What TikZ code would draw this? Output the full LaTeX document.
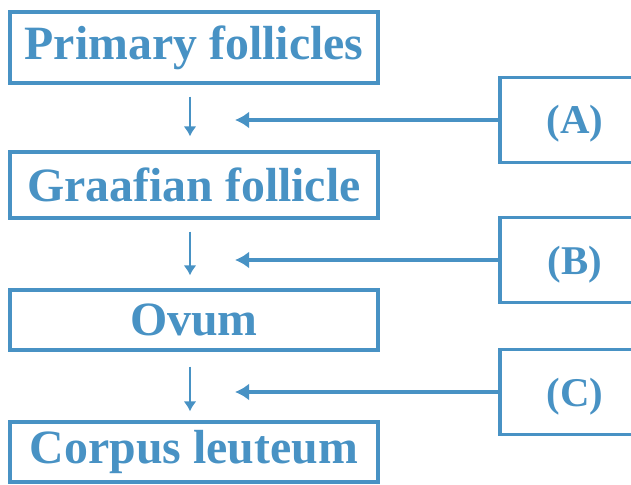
\documentclass[tikz,border=0pt]{standalone}
\usepackage{fontspec}
\setmainfont{Liberation Serif}
\usetikzlibrary{arrows.meta}
\definecolor{ink}{RGB}{72,146,196}
\begin{document}
\begin{tikzpicture}[x=1bp,y=-1bp,
  lbox/.style={draw=ink, line width=3.2bp, minimum width=368bp, inner sep=0pt, text=ink,
    font=\bfseries\fontsize{48}{48}\selectfont},
  rbox/.style={draw=ink, line width=3.2bp, minimum width=150bp, minimum height=85bp, inner sep=0pt, text=ink,
    text height=33bp, text depth=5bp, font=\bfseries\fontsize{41}{41}\selectfont},
  darrow/.style={draw=ink, line width=2.8bp, -{Latex[length=10bp,width=13bp]}},
  harrow/.style={draw=ink, line width=3.2bp, -{Latex[length=14bp,width=17bp]}}]
\useasboundingbox (0,0) rectangle (631,485);
\clip (0,0) rectangle (631,485);
\node[lbox, minimum height=71bp] (p) at (194,47.5) {Primary follicles};
\node[lbox, minimum height=66bp] (g) at (194,185) {Graafian follicle};
\node[lbox, minimum height=60bp] (o) at (194,320) {Ovum};
\node[lbox, minimum height=60bp] (c) at (194,452) {Corpus leuteum};
\node[rbox] (ra) at (575,120) {(A)};
\node[rbox] (rb) at (575,260) {(B)};
\node[rbox] (rc) at (575,392) {(C)};
\coordinate (ta) at (235,120);
\coordinate (tb) at (235,260);
\coordinate (tc) at (235,392);
\draw[darrow, shorten <=12bp, shorten >=14bp] ([xshift=-4bp]p.south) -- ([xshift=-4bp]g.north);
\draw[darrow, shorten <=12bp, shorten >=13bp] ([xshift=-4bp]g.south) -- ([xshift=-4bp]o.north);
\draw[darrow, shorten <=15bp, shorten >=9bp] ([xshift=-4bp]o.south) -- ([xshift=-4bp]c.north);
\draw[harrow] (ra.west) -- (ta);
\draw[harrow] (rb.west) -- (tb);
\draw[harrow] (rc.west) -- (tc);
\end{tikzpicture}
\end{document}
